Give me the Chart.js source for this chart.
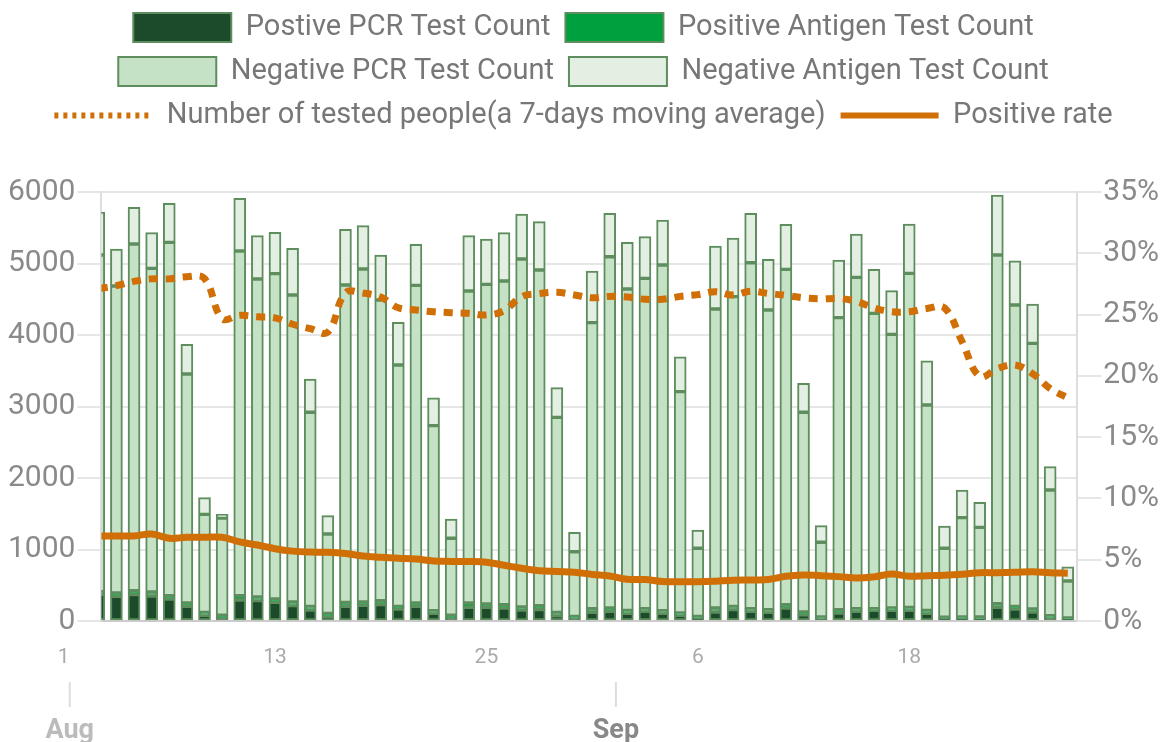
<!DOCTYPE html>
<html>
<head>
<meta charset="utf-8">
<script src="https://cdn.jsdelivr.net/npm/chart.js@4.4.1/dist/chart.umd.min.js"></script>
<style>
  html, body { margin: 0; padding: 0; background: #fff; }
  #wrap { width: 1168px; height: 742px; }
</style>
</head>
<body>
<div id="wrap"><canvas id="testChart"></canvas></div>
<script>
// dates (MM-DD), Aug 3 .. Sep 27
const dates = [
  '08-03','08-04','08-05','08-06','08-07','08-08','08-09','08-10','08-11','08-12','08-13','08-14','08-15','08-16','08-17',
  '08-18','08-19','08-20','08-21','08-22','08-23','08-24','08-25','08-26','08-27','08-28','08-29','08-30','08-31',
  '09-01','09-02','09-03','09-04','09-05','09-06','09-07','09-08','09-09','09-10','09-11','09-12','09-13','09-14',
  '09-15','09-16','09-17','09-18','09-19','09-20','09-21','09-22','09-23','09-24','09-25','09-26','09-27'
];

const posPCR = [
  370, 345, 368, 350, 308, 205, 80, 42, 294, 284, 261, 214, 154, 52, 205,
  219, 228, 168, 205, 107, 42, 191, 191, 182, 154, 158, 75, 42, 121,
  135, 107, 135, 107, 80, 33, 126, 158, 135, 121, 182, 88, 28, 112,
  135, 149, 149, 149, 107, 33, 33, 20, 191, 168, 126, 42, 20
];
const posAntigen = [
  40, 47, 56, 56, 46, 47, 41, 38, 60, 52, 47, 52, 51, 55, 56,
  47, 56, 37, 47, 37, 38, 61, 47, 46, 42, 56, 46, 23, 51,
  47, 42, 37, 37, 32, 32, 56, 47, 37, 37, 46, 38, 28, 46,
  37, 23, 33, 42, 42, 19, 23, 36, 51, 37, 42, 33, 22
];
const negPCR = [
  4709, 4293, 4849, 4526, 4942, 3202, 1371, 1360, 4821, 4447, 4550, 4293, 2714, 1110, 4438,
  4657, 4206, 3375, 4443, 2588, 1077, 4363, 4471, 4527, 4867, 4695, 2728, 904, 4000,
  4913, 4494, 4621, 4835, 3095, 952, 4182, 4331, 4839, 4192, 4690, 2793, 1045, 4084,
  4635, 4131, 3827, 4672, 2872, 965, 1389, 1254, 4877, 4215, 3715, 1757, 517
];
const negAntigen = [
  601, 518, 513, 499, 544, 415, 233, 52, 737, 606, 578, 653, 466, 256, 779,
  606, 629, 598, 573, 391, 270, 774, 634, 676, 629, 676, 414, 272, 723,
  607, 653, 582, 629, 489, 256, 881, 821, 691, 709, 630, 405, 232, 807,
  606, 615, 611, 689, 619, 312, 387, 350, 839, 619, 551, 326, 200
];
// 7-day moving average of tested people
const testedAvg = [
  4650, 4690, 4750, 4785, 4785, 4815, 4790, 4230, 4275, 4255, 4240, 4150, 4090, 4040, 4590,
  4585, 4530, 4380, 4350, 4325, 4312, 4303, 4280, 4340, 4536, 4580, 4597, 4560, 4520,
  4540, 4530, 4500, 4500, 4540, 4565, 4605, 4560, 4612, 4580, 4555, 4520, 4505, 4510,
  4470, 4380, 4325, 4325, 4370, 4380, 3906, 3420, 3530, 3580, 3460, 3250, 3120
];
// positive rate, %
const positiveRate = [
  6.94, 6.94, 6.94, 7.1, 6.75, 6.83, 6.83, 6.83, 6.45, 6.2, 5.9, 5.7, 5.62, 5.6, 5.5,
  5.3, 5.2, 5.12, 5.05, 4.9, 4.86, 4.85, 4.8, 4.55, 4.3, 4.1, 4.04, 3.98, 3.8,
  3.67, 3.4, 3.38, 3.22, 3.2, 3.2, 3.25, 3.33, 3.35, 3.38, 3.65, 3.75, 3.7, 3.62,
  3.5, 3.6, 3.83, 3.65, 3.7, 3.74, 3.82, 3.94, 3.94, 3.97, 4.02, 3.94, 3.9
];

// x axis labels
const dayTicks = ['08-01', '08-13', '08-25', '09-06', '09-18'];
const dayTickLabels = ['1', '13', '25', '6', '18'];
const monthTicks = ['08-01', '09-01'];
const monthLabels = ['Aug', 'Sep'];

// day number counted from Aug 1 = 1
function dayNum(s) {
  const [m, d] = s.split('-').map(Number);
  return m === 8 ? d : 31 + d;
}
const xs = dates.map(dayNum);

const BORDER = '#5e8d5e';
const ORANGE = '#d06f06';

Chart.defaults.font.family = 'Roboto, "Noto Sans", sans-serif';

// extra room under the legend
const legendGap = {
  id: 'legendGap',
  beforeInit(chart) {
    const fit = chart.legend.fit;
    chart.legend.fit = function () {
      fit.bind(chart.legend)();
      this.height += 52;
    };
  }
};

// two-level date labels under the plot
const dateLabels = {
  id: 'dateLabels',
  afterDraw(chart) {
    const sx = chart.scales.x;
    const c = chart.ctx;
    c.save();
    c.textAlign = 'center';
    c.textBaseline = 'middle';
    c.font = '21px Roboto';
    c.fillStyle = '#aaaaaa';
    dayTicks.forEach((d, i) => {
      c.fillText(dayTickLabels[i], sx.getPixelForValue(dayNum(d)), sx.top + 37);
    });
    c.font = 'bold 27px Roboto';
    monthTicks.forEach((d, i) => {
      const px = sx.getPixelForValue(dayNum(d) + 0.35);
      c.strokeStyle = '#dddddd';
      c.lineWidth = 2;
      c.beginPath();
      c.moveTo(px, sx.top + 61);
      c.lineTo(px, sx.top + 86);
      c.stroke();
      c.fillStyle = i === 0 ? '#bbbbbb' : '#888888';
      c.fillText(monthLabels[i], px, sx.top + 110);
    });
    c.restore();
  }
};

const barBase = {
  type: 'bar',
  yAxisID: 'y',
  borderColor: BORDER,
  borderWidth: 2,
  borderSkipped: false,
  barThickness: 12,
  pointStyle: 'rect'
};

new Chart(document.getElementById('testChart'), {
  data: {
    labels: xs,
    datasets: [
      { ...barBase, label: 'Postive PCR Test Count', data: posPCR, backgroundColor: '#1c4b2b' },
      { ...barBase, label: 'Positive Antigen Test Count', data: posAntigen, backgroundColor: '#00a03e' },
      { ...barBase, label: 'Negative PCR Test Count', data: negPCR, backgroundColor: '#c6e2c6' },
      { ...barBase, label: 'Negative Antigen Test Count', data: negAntigen, backgroundColor: '#e3efe2' },
      {
        type: 'line', label: 'Number of tested people(a 7-days moving average)', data: testedAvg,
        yAxisID: 'y', borderColor: ORANGE, borderWidth: 7, borderDash: [9, 8],
        tension: 0.4, pointRadius: 0, order: -1, pointStyle: 'line'
      },
      {
        type: 'line', label: 'Positive rate', data: positiveRate,
        yAxisID: 'y1', borderColor: ORANGE, borderWidth: 7,
        tension: 0.4, pointRadius: 0, order: -1, pointStyle: 'line'
      }
    ]
  },
  options: {
    responsive: true,
    maintainAspectRatio: false,
    animation: false,
    layout: { padding: { left: 6, right: 7, top: -2 } },
    plugins: {
      tooltip: { enabled: false },
      legend: {
        position: 'top',
        labels: {
          font: { size: 29 },
          color: '#777777',
          padding: 15,
          usePointStyle: true,
          pointStyleWidth: 98,
          boxHeight: 30,
          sort: (a, b) => a.datasetIndex - b.datasetIndex,
          generateLabels(chart) {
            const items = Chart.defaults.plugins.legend.labels.generateLabels(chart);
            items.forEach(it => {
              const ds = chart.data.datasets[it.datasetIndex];
              if (ds.type === 'line') {
                it.pointStyle = 'line';
                it.lineWidth = 6;
                it.strokeStyle = ds.borderColor;
                it.lineDash = ds.borderDash ? [4, 5] : [];
                it.lineCap = 'butt';
              } else {
                it.pointStyle = 'rect';
                it.lineWidth = 2;
                it.strokeStyle = BORDER;
              }
            });
            return items;
          }
        }
      }
    },
    scales: {
      x: {
        type: 'linear',
        offset: false,
        bounds: 'data',
        min: 3.15,
        max: 58.54,
        stacked: true,
        grid: { display: false, offset: false },
        ticks: { display: false },
        border: { display: true, color: '#cccccc', width: 2 },
        afterFit(scale) { scale.height = 121; }
      },
      y: {
        position: 'left',
        stacked: true,
        min: 0,
        max: 6000,
        ticks: { stepSize: 1000, color: '#8a8a8a', font: { size: 30 }, padding: 2, callback: v => String(v) },
        grid: { color: '#e6e6e6', lineWidth: 2, tickLength: 24 },
        border: { color: '#dddddd', width: 2 }
      },
      y1: {
        position: 'right',
        min: 0,
        max: 35,
        ticks: { stepSize: 5, color: '#8a8a8a', font: { size: 30 }, padding: 2, callback: v => v + '%' },
        grid: { drawOnChartArea: false, color: '#e6e6e6', lineWidth: 2, tickLength: 24 },
        border: { color: '#dddddd', width: 2 }
      }
    }
  },
  plugins: [legendGap, dateLabels]
});
</script>
</body>
</html>
